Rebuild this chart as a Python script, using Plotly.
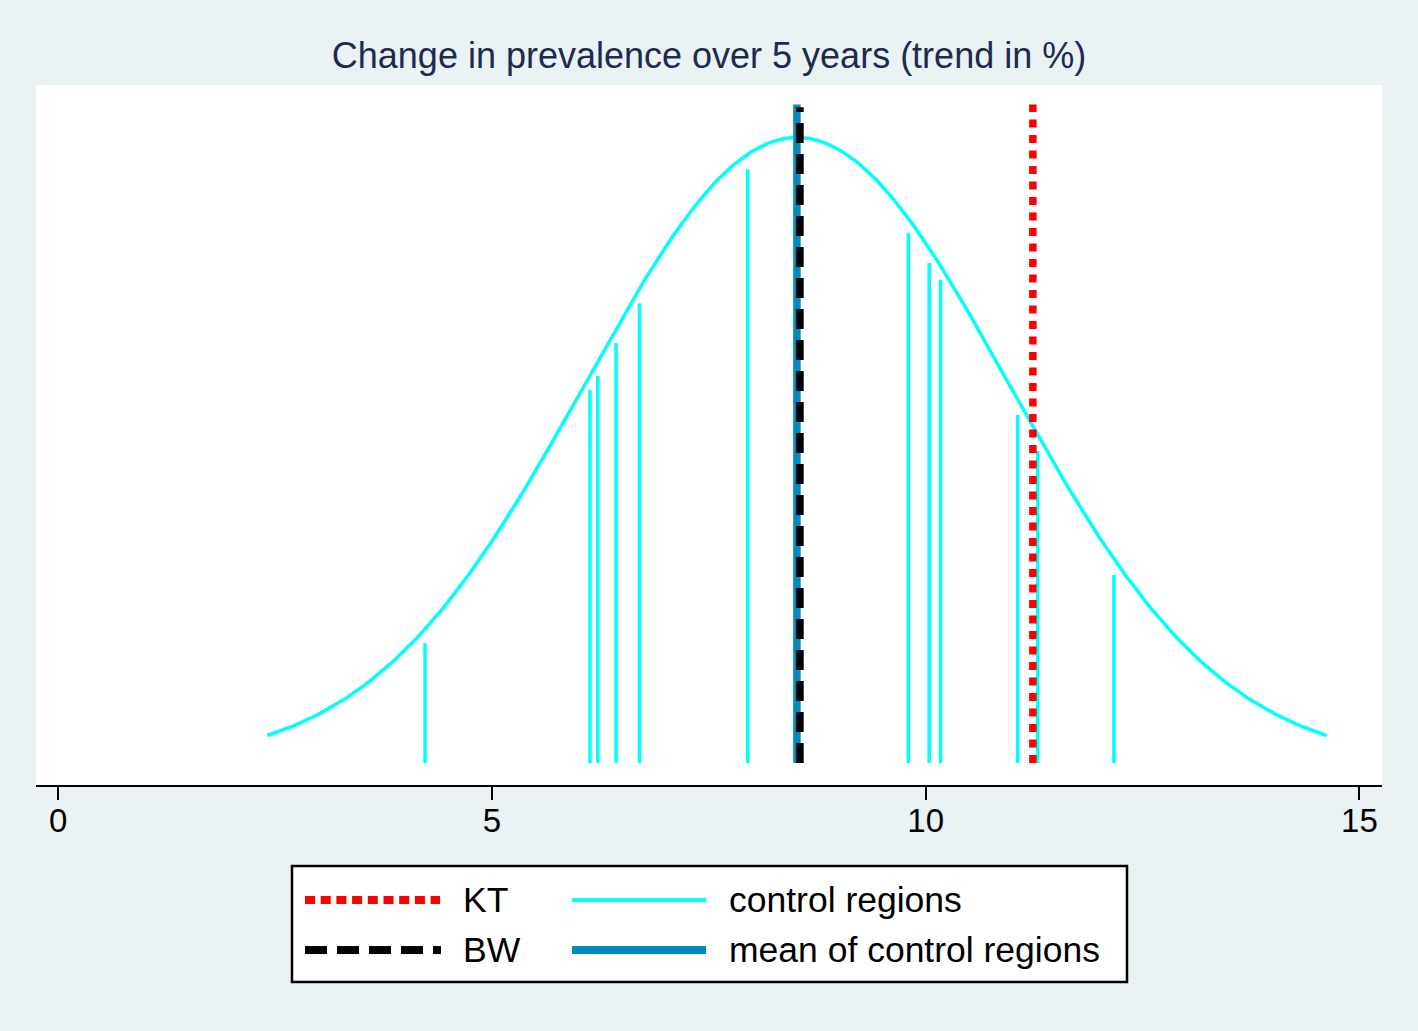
import numpy as np
import plotly.graph_objects as go

# ---------------- data ----------------
title_text = "Change in prevalence over 5 years (trend in %)"
control_x = [4.228, 6.13, 6.22, 6.43, 6.70, 7.947, 9.80, 10.04, 10.17, 11.06, 11.29, 12.17]
control_h = [0.0313, 0.0974, 0.1011, 0.1097, 0.1201, 0.1551, 0.1384, 0.1306, 0.1262, 0.0909, 0.0815, 0.0491]
kt_value = 11.235
bw_value = 8.55
ref_line_top = 0.172
x_ticks = [0, 5, 10, 15]
x_tick_labels = ["0", "5", "10", "15"]
legend_labels = ["KT", "BW", "control regions", "mean of control regions"]

# ---------------- styles ----------------
CYAN = "#00FFFF"
BLUE = "#008BBC"
RED = "#FF0000"
BLACK = "#000000"
BG = "#EAF2F3"
FONT = "Liberation Sans, Arial, Helvetica, sans-serif"

mean_value = float(np.mean(control_x))
sd_value = float(np.std(control_x))

# normal density overlay fitted to control regions (mean +/- 2.5 sd)
curve_x = np.linspace(mean_value - 2.5 * sd_value, mean_value + 2.5 * sd_value, 300)
curve_y = np.exp(-0.5 * ((curve_x - mean_value) / sd_value) ** 2) / (sd_value * np.sqrt(2 * np.pi))

spike_x, spike_y = [], []
for xv, hv in zip(control_x, control_h):
    spike_x += [xv, xv, None]
    spike_y += [0, hv, None]

fig = go.Figure()
fig.add_trace(go.Scatter(x=curve_x, y=curve_y, mode="lines",
                         line=dict(color=CYAN, width=3.5), showlegend=False, hoverinfo="skip"))
fig.add_trace(go.Scatter(x=spike_x, y=spike_y, mode="lines",
                         line=dict(color=CYAN, width=3.5), name=legend_labels[2], showlegend=False))
fig.add_trace(go.Scatter(x=[mean_value, mean_value], y=[0, ref_line_top], mode="lines",
                         line=dict(color=BLUE, width=7.5), name=legend_labels[3], showlegend=False))
fig.add_trace(go.Scatter(x=[bw_value, bw_value], y=[0, ref_line_top - 0.0007], mode="lines",
                         line=dict(color=BLACK, width=7.5, dash="20px,11px"), name=legend_labels[1], showlegend=False))
fig.add_trace(go.Scatter(x=[kt_value, kt_value], y=[0, ref_line_top], mode="lines",
                         line=dict(color=RED, width=7.5, dash="8px,7.5px"), name=legend_labels[0], showlegend=False))

# ---------------- manual legend ----------------
W, H = 1418, 1031
ml, mr, mt, mb = 36, 36, 85, 246
pw = W - ml - mr
ph = H - mt - mb


def px_x(p):
    return (p - ml) / pw


def px_y(p):
    return (H - mb - p) / ph


shapes = []
shapes.append(dict(type="rect", xref="paper", yref="paper",
                   x0=px_x(292), x1=px_x(1127), y0=px_y(982), y1=px_y(866),
                   line=dict(color=BLACK, width=2.5), fillcolor="white", layer="below"))
row_y = [px_y(900), px_y(950)]
sym_specs = [
    (row_y[0], px_x(305), px_x(440), RED, 8, "10px,5.7px"),
    (row_y[1], px_x(305), px_x(441), BLACK, 8, "22px,10px"),
    (row_y[0], px_x(572), px_x(706), CYAN, 4, "solid"),
    (row_y[1], px_x(572), px_x(706), BLUE, 8, "solid"),
]
for yv, x0, x1, col, wd, ds in sym_specs:
    shapes.append(dict(type="line", xref="paper", yref="paper", x0=x0, x1=x1, y0=yv, y1=yv,
                       line=dict(color=col, width=wd, dash=ds)))

annotations = []
text_pos = [(px_x(461), row_y[0], legend_labels[0]), (px_x(461), row_y[1], legend_labels[1]),
            (px_x(727), row_y[0], legend_labels[2]), (px_x(727), row_y[1], legend_labels[3])]
for xv, yv, t in text_pos:
    annotations.append(dict(x=xv, y=yv, xref="paper", yref="paper", text=t, showarrow=False,
                            xanchor="left", yanchor="middle", font=dict(family=FONT, size=35.5, color=BLACK)))

fig.update_layout(
    width=W, height=H,
    margin=dict(l=ml, r=mr, t=mt, b=mb),
    paper_bgcolor=BG, plot_bgcolor="white",
    title=dict(text=title_text, x=0.5, xanchor="center", y=1 - 55 / H, yanchor="middle",
               font=dict(family=FONT, size=36, color="#1C2B4F")),
    shapes=shapes, annotations=annotations,
    showlegend=False,
    xaxis=dict(range=[-0.257, 15.26], tickvals=x_ticks, ticktext=x_tick_labels,
               showline=True, linecolor=BLACK, linewidth=2, ticks="outside", ticklen=13,
               tickwidth=2, tickcolor=BLACK, showgrid=False, zeroline=False,
               ticklabelstandoff=-8,
               tickfont=dict(family=FONT, size=33, color=BLACK)),
    yaxis=dict(range=[-0.00575, 0.1771], visible=False, showgrid=False, zeroline=False),
)

fig.write_html("out.html",
               config={"displayModeBar": False},
               post_script="document.body.style.margin='0';document.body.style.padding='0';"
                           "document.body.style.background='" + BG + "';")
